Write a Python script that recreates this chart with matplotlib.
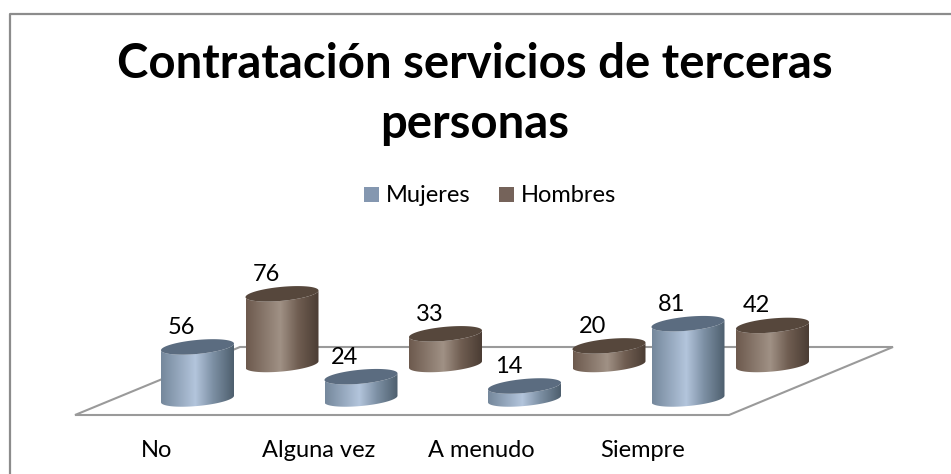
import numpy as np
import matplotlib
matplotlib.use("Agg")
import matplotlib.pyplot as plt
from matplotlib.colors import LinearSegmentedColormap
from matplotlib.lines import Line2D
from matplotlib.patches import Polygon, Rectangle

categories = ["No", "Alguna vez", "A menudo", "Siempre"]
mujeres = [56, 24, 14, 81]
hombres = [76, 33, 20, 42]
title_lines = ["Contratación servicios de terceras", "personas"]

plt.rcParams["font.family"] = ["Lato", "DejaVu Sans"]

# layout in pixels, the figure is one big axes
W, H = 951, 474
px_per_unit = 0.93
cyl_w = 73
cat_step = 163.5
mujeres_x = 161
hombres_x = 245.5
mujeres_base = 399
hombres_base = 364.5
tilt = 3.3
ry = 7.0
label_size = 17

blue = ["#75889c", "#b3c5dc", "#7c8fa3", "#4e5f6e"]
brown = ["#6d5a4e", "#a09185", "#6f5d51", "#4b3d34"]
blue_top = "#5b6c80"
brown_top = "#56473c"

fig = plt.figure(figsize=(W / 100, H / 100), dpi=100)
ax = fig.add_axes([0, 0, 1, 1])
ax.set_xlim(0, W)
ax.set_ylim(H, 0)
ax.axis("off")

# frame only shows on the left and top
ax.add_line(Line2D([9.5, 9.5, W], [H, 13.5, 13.5], color="#8c8c8c", lw=1.6))

# floor
ax.add_patch(Polygon([(75, 415), (240, 347), (893, 347), (729, 415)], closed=True,
                     fill=False, ec="#9a9a9a", lw=1.5, zorder=1))


def ellipse(cx, cy, t):
    return cx + cyl_w / 2 * np.cos(t), cy + ry * np.sin(t) - tilt * np.cos(t)


def cylinder(x0, base, value, colors, top_color):
    cx = x0 + cyl_w / 2
    top = base - value * px_per_unit
    t_low = np.linspace(0, np.pi, 50)
    t_all = np.linspace(0, 2 * np.pi, 100)
    bx, by = ellipse(cx, base, t_low)
    tx, ty = ellipse(cx, top, t_low[::-1])
    body = Polygon(np.column_stack([np.r_[bx, tx], np.r_[by, ty]]), closed=True,
                   fc="none", ec="none", zorder=3)
    ax.add_patch(body)
    cmap = LinearSegmentedColormap.from_list("cyl", list(zip([0, 0.47, 0.72, 1], colors)))
    im = ax.imshow(np.linspace(0, 1, 200)[None, :], cmap=cmap, aspect="auto",
                   extent=[x0, x0 + cyl_w, base + 12, top - 12], zorder=3)
    im.set_clip_path(body)
    ex, ey = ellipse(cx, top, t_all)
    ax.fill(ex, ey, color=top_color, lw=0, zorder=4)
    return cx, top


for i, cat in enumerate(categories):
    cx, top = cylinder(mujeres_x + i * cat_step, mujeres_base, mujeres[i], blue, blue_top)
    ax.text(cx - 16, top - 19.5, str(mujeres[i]), ha="center", va="center", fontsize=label_size, zorder=5)
    cx, top = cylinder(hombres_x + i * cat_step, hombres_base, hombres[i], brown, brown_top)
    ax.text(cx - 16, top - 19.5, str(hombres[i]), ha="center", va="center", fontsize=label_size, zorder=5)
    ax.text(157 + i * 162, 457, cat, ha="center", va="baseline", fontsize=label_size)

ax.set_xlim(0, W)
ax.set_ylim(H, 0)

ax.text(475, 78, title_lines[0], ha="center", va="baseline", fontsize=34, fontweight="bold")
ax.text(475, 138, title_lines[1], ha="center", va="baseline", fontsize=34, fontweight="bold")

ax.add_patch(Rectangle((364, 187), 15, 15, fc="#8497b0", ec="none"))
ax.add_patch(Rectangle((499, 187), 15, 15, fc="#75635a", ec="none"))
ax.text(386, 202, "Mujeres", ha="left", va="baseline", fontsize=label_size)
ax.text(521, 202, "Hombres", ha="left", va="baseline", fontsize=label_size)

fig.savefig("out.png", dpi=100)
